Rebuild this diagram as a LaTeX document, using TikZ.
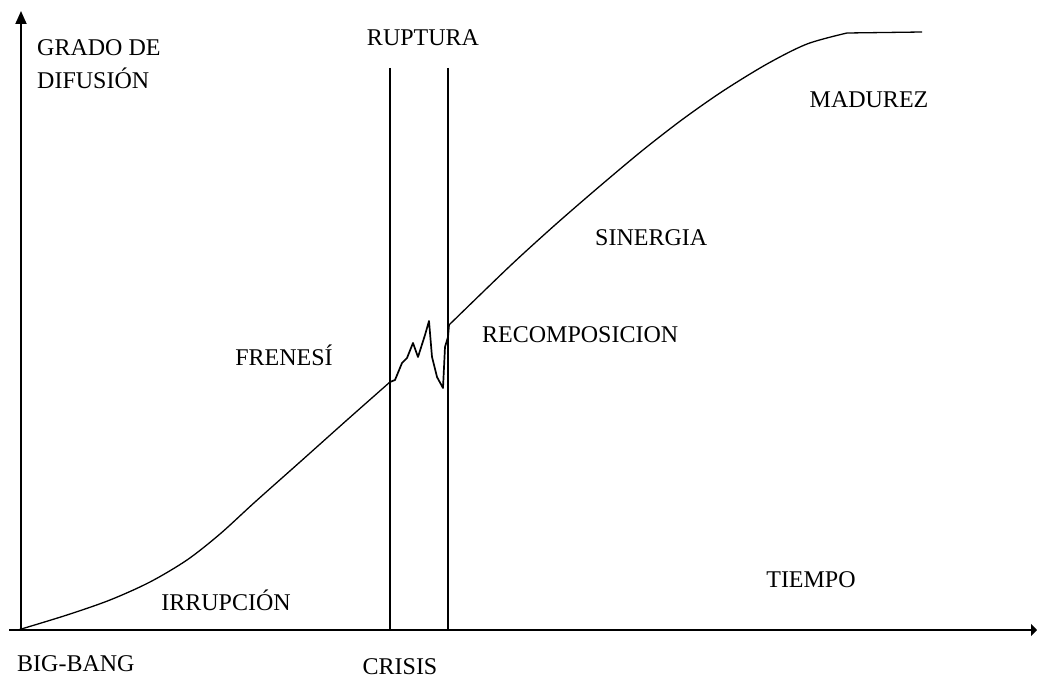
\documentclass[tikz,border=0pt]{standalone}
\usepackage{fontspec}
\setmainfont{Liberation Serif}
\usetikzlibrary{arrows.meta}
\tikzset{
  lbl/.style={inner sep=0pt, font=\fontsize{24}{26}\selectfont},
  axisline/.style={line width=1.8pt},
  divline/.style={line width=1.4pt},
  curveline/.style={line width=1.3pt, line join=round},
  wiggle/.style={line width=1.7pt, line join=round},
}
\begin{document}
\begin{tikzpicture}[x=1pt,y=-1pt]
\useasboundingbox (0,0) rectangle (1037,679);
% axes
\coordinate (yb) at (21,630);
\coordinate (yt) at (21,11);
\coordinate (xl) at (9,630);
\coordinate (xr) at (1037,630);
\draw[axisline,-{Triangle[length=13pt,width=11pt]}] (yb) -- (yt);
\draw[axisline,-{Triangle[length=6pt,width=12pt]}] (xl) -- (xr);
% vertical divider lines
\coordinate (v1t) at (390,68);
\coordinate (v1b) at (390,630);
\coordinate (v2t) at (448,68);
\coordinate (v2b) at (448,630);
\draw[divline] (v1t) -- (v1b);
\draw[divline] (v2t) -- (v2b);
% curve
\coordinate (c0) at (18,630);
\coordinate (c1) at (390,382);
\coordinate (c2) at (449,325);
\coordinate (c3) at (847,33);
\coordinate (c4) at (922,32);
\draw[curveline] plot[smooth, tension=0.5] coordinates {(18,630) (67,615) (110,600) (150,582) (187,560) (220,534) (255,502) (300,462) (347,420) (390,382)};
\draw[wiggle] (c1) -- (395,380) -- (402,363) -- (407,358) -- (413,343) -- (418,357) -- (425,335) -- (429,321) -- (432,357) -- (437,377) -- (443,388) -- (445,347) -- (448,337) -- (c2);
\draw[curveline] plot[smooth, tension=0.5] coordinates {(449,325) (510,266) (555,225) (600,186) (643,150) (683,119) (723,91) (767,64) (807,44) (847,33)};
\draw[curveline] (c3) -- (c4);
% labels
\node[lbl, anchor=west, align=left] (grado) at (37,48) {GRADO DE};
\node[lbl, anchor=west, align=left] (difusion) at (37,78) {DIFUSIÓN};
\node[lbl] (ruptura) at (423,38) {RUPTURA};
\node[lbl] (madurez) at (869,100) {MADUREZ};
\node[lbl, anchor=west] (sinergia) at (595,238) {SINERGIA};
\node[lbl, anchor=west] (recomp) at (482,335) {RECOMPOSICION};
\node[lbl] (frenesi) at (284,355) {FRENESÍ};
\node[lbl] (irrupcion) at (226,600) {IRRUPCIÓN};
\node[lbl] (tiempo) at (811,580) {TIEMPO};
\node[lbl, anchor=west] (bigbang) at (17,664) {BIG-BANG};
\node[lbl] (crisis) at (400,667) {CRISIS};
\end{tikzpicture}
\end{document}
